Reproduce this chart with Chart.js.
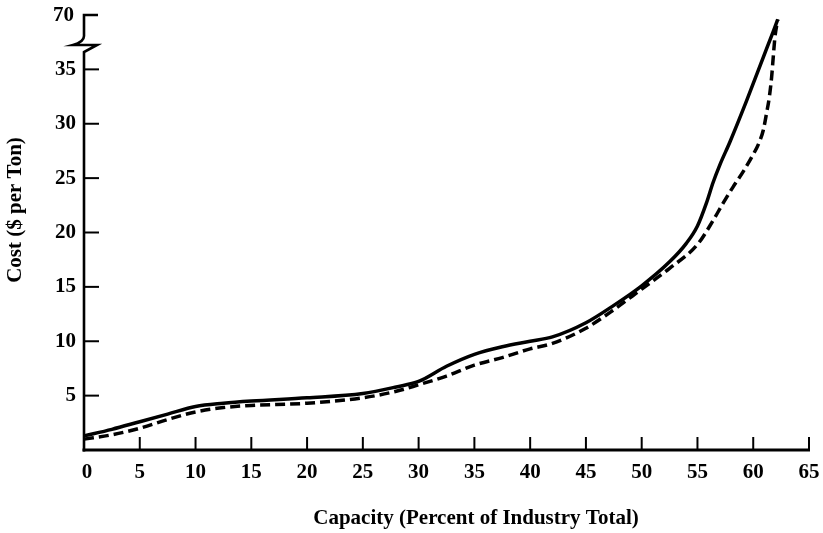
<!DOCTYPE html>
<html>
<head>
<meta charset="utf-8">
<script src="https://cdn.jsdelivr.net/npm/chart.js@4.4.1/dist/chart.umd.min.js"></script>
<style>
  html, body { margin: 0; padding: 0; background: #ffffff; }
  #wrap { width: 823px; height: 533px; position: relative; }
  canvas { display: block; }
</style>
</head>
<body>
<div id="wrap"><canvas id="c" width="823" height="533"></canvas></div>
<script>
// ---- Data ----
// Y values are in plotted units: the axis is broken above 35, and the top mark (plotted at 40) is labelled 70.
const capacitySolid = [0, 2.5, 5, 7.5, 10, 12.5, 15, 20, 25, 28, 30, 32.5, 35, 37.5, 40, 42, 45, 47.5, 50, 52.5, 54, 55, 55.8, 56.4, 57, 57.9, 59.4, 60.9, 61.8, 62.2];
const costSolid     = [1.3, 1.9, 2.6, 3.3, 4.0, 4.3, 4.5, 4.8, 5.2, 5.8, 6.3, 7.7, 8.8, 9.5, 10.0, 10.4, 11.7, 13.3, 15.1, 17.3, 19.0, 20.6, 22.7, 24.6, 26.2, 28.3, 32.1, 36.1, 38.5, 39.6];

const capacityDashed = [0, 2.5, 5, 7.5, 10, 12.5, 15, 20, 25, 28, 30, 32.5, 35, 37.5, 40, 42, 45, 47.5, 50, 52.5, 55, 56.4, 57.3, 58.2, 59.1, 59.9, 60.5, 60.9, 61.2, 61.45, 61.65, 61.8, 61.95, 62.2];
const costDashed     = [1.0, 1.4, 2.0, 2.8, 3.5, 3.9, 4.1, 4.3, 4.8, 5.4, 6.0, 6.8, 7.8, 8.5, 9.3, 9.8, 11.2, 12.9, 14.8, 16.7, 18.9, 21.1, 22.7, 24.2, 25.6, 27.0, 28.2, 29.4, 31.0, 32.5, 34.3, 36.2, 38.0, 39.6];

const xTickValues = [0, 5, 10, 15, 20, 25, 30, 35, 40, 45, 50, 55, 60, 65];
const yTickValues = [5, 10, 15, 20, 25, 30, 35];
const yTopTickValue = 40;      // plotted position of the broken-axis top mark
const yTopTickLabel = '70';

const xTitle = 'Capacity (Percent of Industry Total)';
const yTitle = 'Cost ($ per Ton)';

// ---- Build datasets ----
const toPoints = (xs, ys) => xs.map((x, i) => ({ x: x, y: ys[i] }));

const FONT = '"Liberation Serif", "DejaVu Serif", serif';

const axesPlugin = {
  id: 'paperAxes',
  beforeDraw(chart) {
    const ctx = chart.ctx;
    ctx.save();
    ctx.fillStyle = '#ffffff';
    ctx.fillRect(0, 0, chart.width, chart.height);
    ctx.restore();
  },
  afterDatasetsDraw(chart) {
    const ctx = chart.ctx;
    const xs = chart.scales.x, ys = chart.scales.y;
    const x0 = xs.getPixelForValue(0);
    const xEnd = xs.getPixelForValue(65);
    const y0 = ys.getPixelForValue(0);
    const yTop = ys.getPixelForValue(yTopTickValue);
    ctx.save();
    ctx.strokeStyle = '#000';
    ctx.fillStyle = '#000';
    ctx.lineCap = 'butt';
    // x axis line
    ctx.lineWidth = 3;
    ctx.beginPath();
    ctx.moveTo(x0 - 1.5, y0);
    ctx.lineTo(xEnd + 1, y0);
    ctx.stroke();
    // y axis with break
    const breakTop = yTop + 25, breakBot = yTop + 37;
    ctx.beginPath();
    ctx.moveTo(x0, y0 + 1.5);
    ctx.lineTo(x0, breakBot);
    ctx.lineTo(x0 + 13, breakTop + 5);
    ctx.lineTo(x0 - 11, breakTop + 5);
    ctx.quadraticCurveTo(x0, breakTop + 2, x0, breakTop - 4);
    ctx.lineTo(x0, yTop);
    ctx.lineTo(x0 + 14, yTop);
    ctx.lineWidth = 2.6;
    ctx.lineJoin = 'miter';
    ctx.stroke();

    // x ticks (inward)
    ctx.lineWidth = 2;
    xTickValues.forEach(v => {
      if (v === 0) return;
      const px = xs.getPixelForValue(v);
      ctx.beginPath();
      ctx.moveTo(px, y0);
      ctx.lineTo(px, y0 - 13);
      ctx.stroke();
    });
    // y ticks (inward)
    yTickValues.forEach(v => {
      const py = ys.getPixelForValue(v);
      ctx.beginPath();
      ctx.moveTo(x0, py);
      ctx.lineTo(x0 + 15, py);
      ctx.stroke();
    });

    // tick labels
    ctx.font = 'bold 21px ' + FONT;
    ctx.textAlign = 'center';
    ctx.textBaseline = 'middle';
    xTickValues.forEach(v => {
      const px = xs.getPixelForValue(v);
      ctx.fillText(String(v), px + (v === 0 ? 3 : 0), y0 + 23);
    });
    ctx.textAlign = 'right';
    yTickValues.forEach(v => {
      const py = ys.getPixelForValue(v);
      ctx.fillText(String(v), x0 - 8, py);
    });
    ctx.fillText(yTopTickLabel, x0 - 10, yTop + 1);

    // axis titles
    ctx.textAlign = 'center';
    ctx.fillText(xTitle, 476, 519);
    ctx.translate(16, 210);
    ctx.rotate(-Math.PI / 2);
    ctx.fillText(yTitle, 0, 0);
    ctx.restore();
  }
};

new Chart(document.getElementById('c'), {
  type: 'line',
  data: {
    datasets: [
      {
        label: 'Solid',
        data: toPoints(capacitySolid, costSolid),
        borderColor: '#000',
        borderWidth: 3.5,
        pointRadius: 0,
        fill: false,
        cubicInterpolationMode: 'monotone',
        clip: false
      },
      {
        label: 'Dashed',
        data: toPoints(capacityDashed, costDashed),
        borderColor: '#000',
        borderWidth: 3.5,
        borderDash: [10, 5],
        pointRadius: 0,
        fill: false,
        cubicInterpolationMode: 'monotone',
        clip: false
      }
    ]
  },
  options: {
    responsive: false,
    animation: false,
    devicePixelRatio: 1,
    layout: { padding: { left: 84, right: 14, top: 15, bottom: 83 } },
    plugins: { legend: { display: false }, tooltip: { enabled: false }, title: { display: false } },
    scales: {
      x: { type: 'linear', min: 0, max: 65, display: false },
      y: { type: 'linear', min: 0, max: 40, display: false }
    }
  },
  plugins: [axesPlugin]
});
</script>
</body>
</html>
